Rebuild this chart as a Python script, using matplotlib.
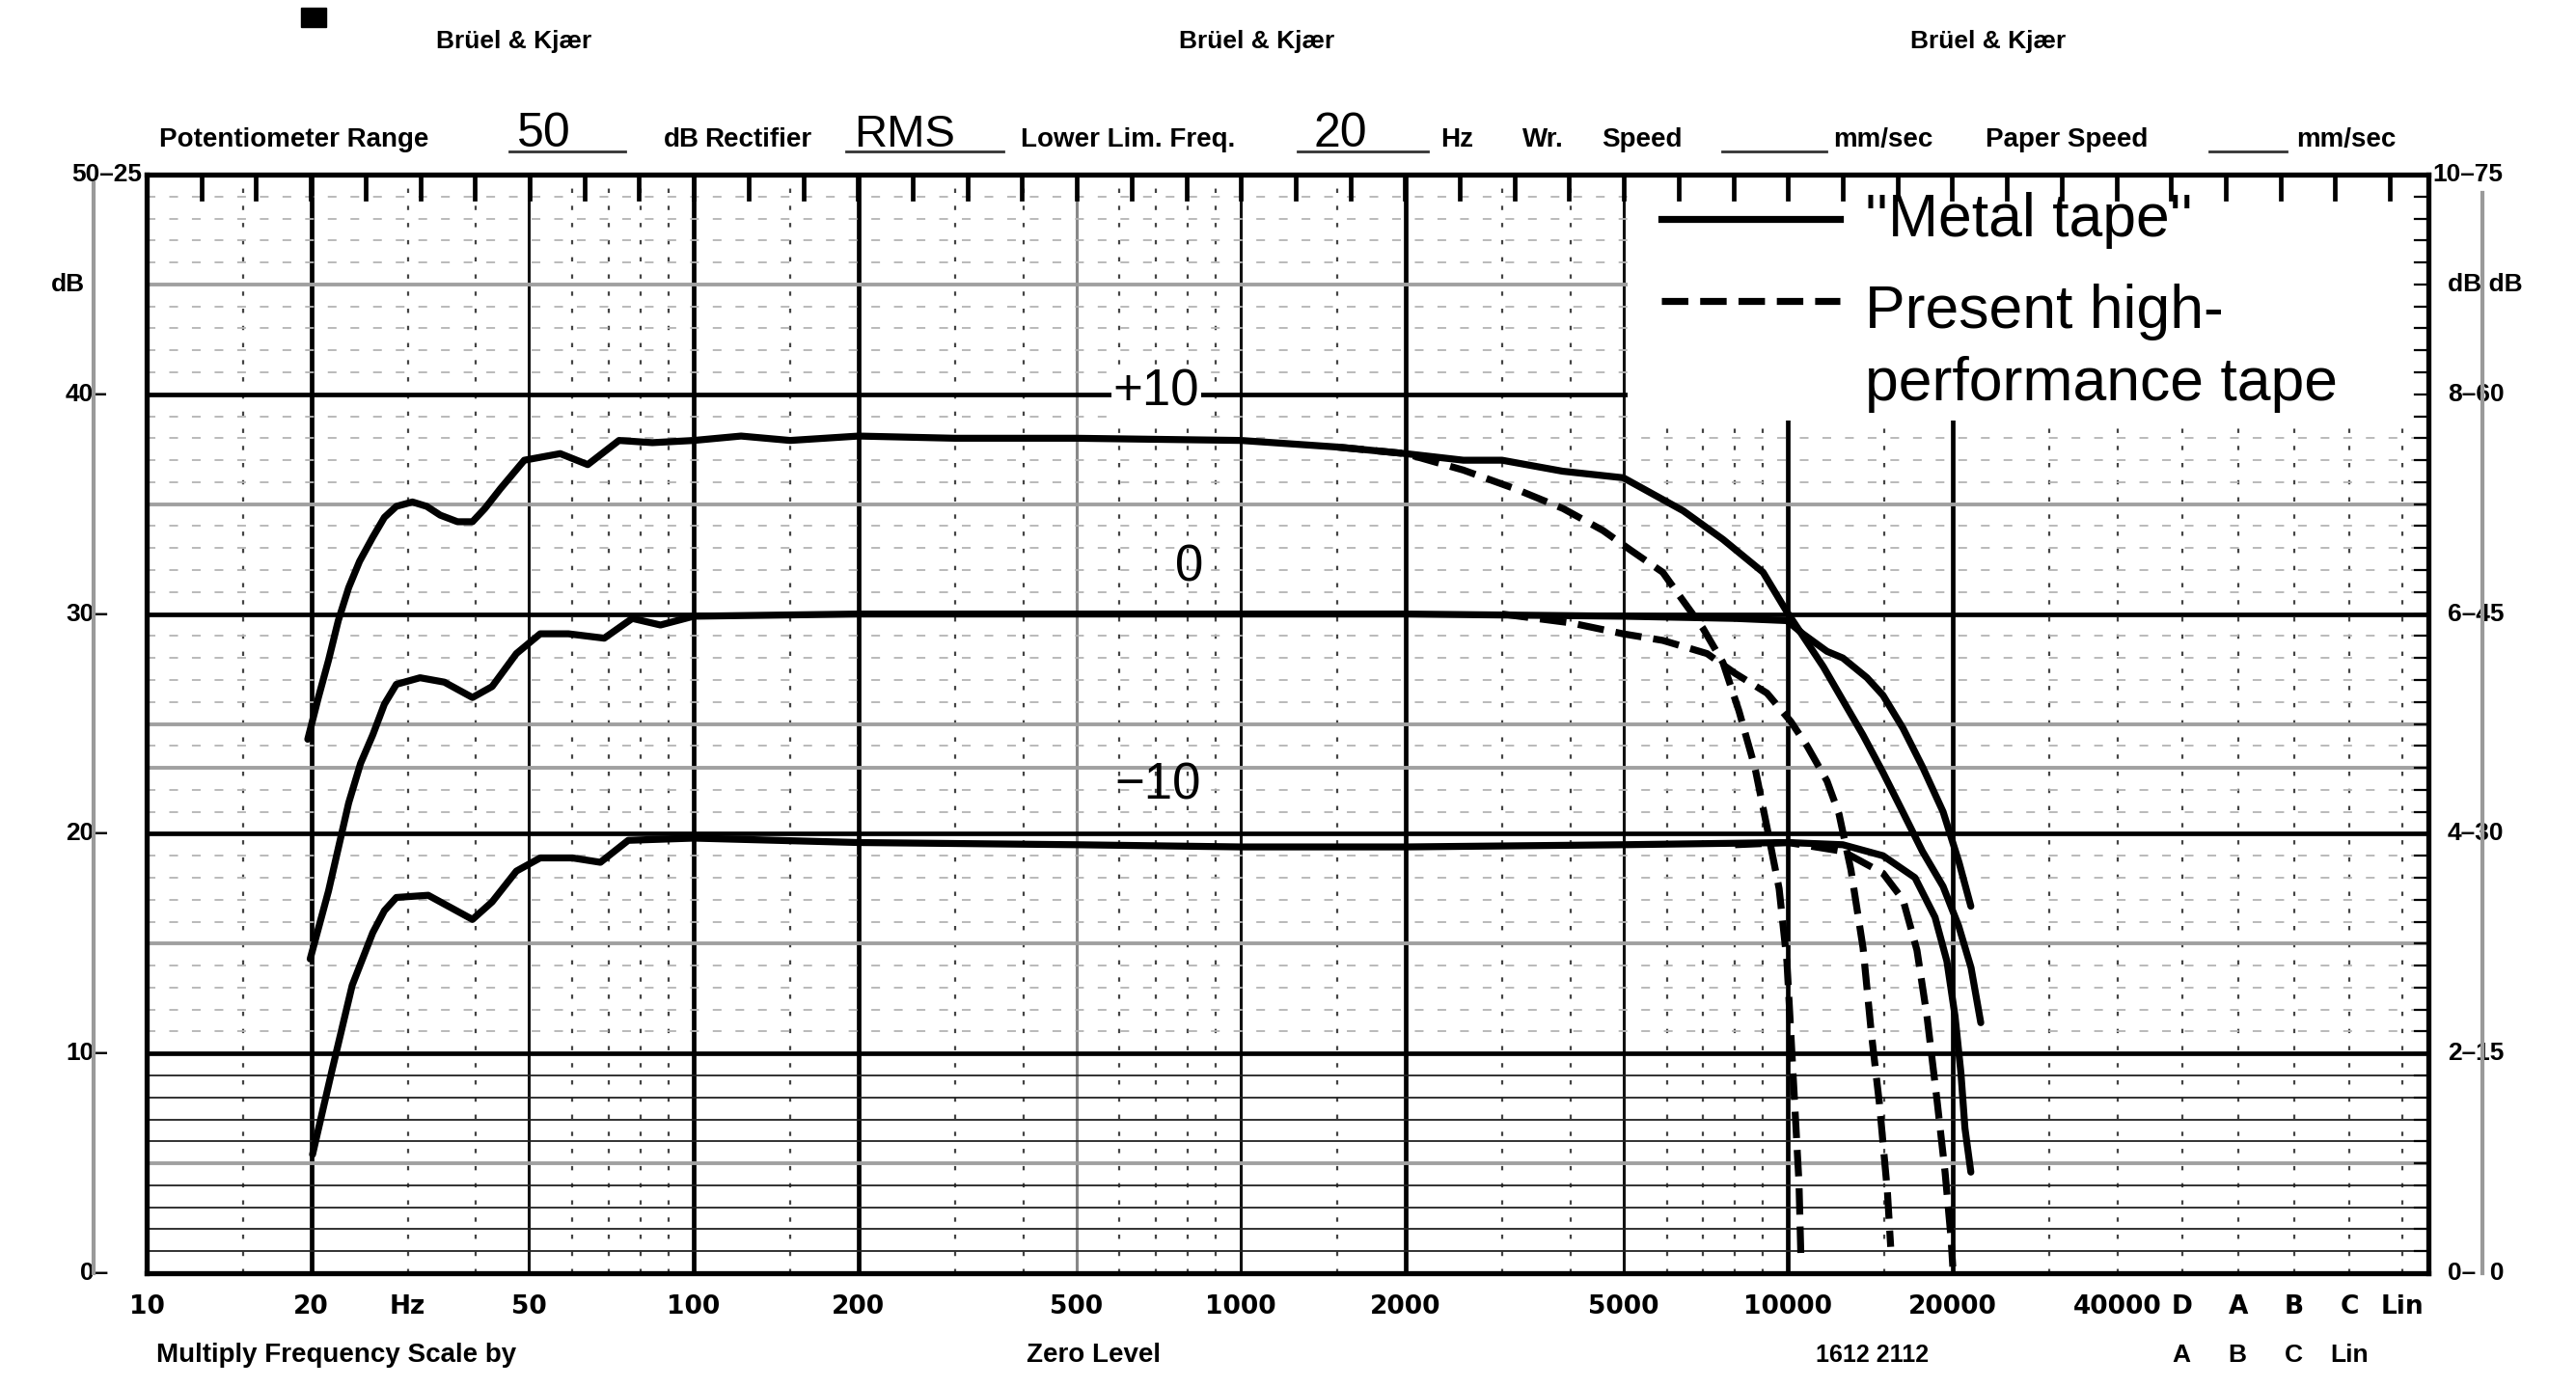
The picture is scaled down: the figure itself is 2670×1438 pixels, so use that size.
import numpy as np
import matplotlib
matplotlib.use("Agg")
import matplotlib.pyplot as plt
import matplotlib.transforms as mtransforms
from matplotlib.patches import Rectangle
from matplotlib.lines import Line2D
from matplotlib.ticker import NullLocator

metal_p10_f = [19.7, 20.6, 21.5, 22.4, 23.4, 24.5, 25.9, 27.2, 28.6, 30.6, 32.5, 34.4, 37, 39.4, 41.5, 44.3, 49,
               57, 64, 73, 84, 100, 122, 150, 200, 300, 500,
               1000, 1500, 2000, 2550, 3000, 3870, 5000, 6430, 7600, 9000,
               9950, 11600, 13700, 14900, 16200, 17600, 19200, 20500, 21600, 22500]
metal_p10_db = [24.3, 26.2, 27.9, 29.7, 31.2, 32.4, 33.5, 34.4, 34.9, 35.1, 34.9, 34.5, 34.2, 34.2, 34.8, 35.7, 37.0,
                37.3, 36.8, 37.9, 37.8, 37.9, 38.1, 37.9, 38.1, 38.0, 38.0,
                37.9, 37.6, 37.3, 37.0, 37.0, 36.5, 36.2, 34.7, 33.4, 31.9,
                30.1, 27.6, 24.5, 22.8, 21.0, 19.2, 17.6, 15.8, 13.9, 11.4]

metal_0_f = [19.9, 21.5, 23.4, 24.6, 25.9, 27.2, 28.6, 31.6, 35, 39.4, 42.8, 47.4,
             52.4, 59, 68.6, 77.2, 86.9, 100, 200, 500, 1000, 2000,
             5000, 8000, 9950, 10640, 11780, 12590, 13940, 14910, 16220, 17640,
             19200, 20530, 21580]
metal_0_db = [14.3, 17.4, 21.4, 23.2, 24.5, 25.9, 26.8, 27.1, 26.9, 26.2, 26.7, 28.2,
              29.1, 29.1, 28.9, 29.8, 29.5, 29.9, 30.0, 30.0, 30.0, 30.0,
              29.9, 29.8, 29.7, 29.1, 28.3, 28.0, 27.1, 26.3, 24.8, 23.0,
              21.0, 18.7, 16.7]

metal_m10_f = [20.1, 21.8, 23.75, 25.9, 27.2, 28.6, 32.7, 36.2, 39.4, 42.8, 47.4,
               52.4, 60, 67.5, 75.9, 100, 200, 500, 1000, 2000, 5000,
               10000, 12590, 14910, 17060, 18560, 19510, 20190, 20700, 21050, 21580]
metal_m10_db = [5.4, 9.2, 13.1, 15.5, 16.5, 17.1, 17.2, 16.6, 16.1, 16.9, 18.3,
                18.9, 18.9, 18.7, 19.7, 19.8, 19.6, 19.5, 19.4, 19.4, 19.5,
                19.6, 19.5, 19.0, 18.0, 16.2, 14.2, 11.7, 9.1, 6.6, 4.6]

present_p10_f = [1500, 2000, 2550, 3170, 3880, 4590, 5160, 5900, 6430, 6990,
                 7600, 8130, 8700, 9150, 9630, 9950, 10210, 10470, 10560]
present_p10_db = [37.6, 37.3, 36.55, 35.7, 34.8, 33.8, 32.9, 31.9, 30.6, 29.35,
                  27.8, 25.6, 23.0, 20.3, 17.5, 14.2, 9.1, 4.1, 0.5]

present_0_f = [3000, 4000, 4990, 5900, 7110, 8000, 9150, 10120, 10830, 11780,
               12390, 13030, 13710, 14200, 14690, 15190, 15400]
present_0_db = [30.0, 29.6, 29.1, 28.8, 28.2, 27.3, 26.4, 25.1, 24.0, 22.4,
                20.9, 18.35, 14.8, 10.9, 7.7, 3.7, 1.2]

present_m10_f = [8000, 10000, 12590, 14910, 16220, 17200, 17940, 18710, 19360, 19850, 20000]
present_m10_db = [19.5, 19.6, 19.2, 18.2, 17.0, 14.7, 11.7, 7.9, 4.6, 1.6, 0.3]

# papel
linhas_v_fortes = [20, 100, 200, 2000, 10000, 20000]
linhas_v_medias = [50, 1000, 5000]
linhas_v_cinza = [500]
linhas_v_pontos = [15, 30, 40, 60, 70, 80, 90, 150, 300, 400, 600, 700, 800, 900,
                   1500, 3000, 4000, 6000, 7000, 8000, 9000, 15000, 30000, 40000,
                   52500, 66400, 84000, 106300, 132700]
linhas_h_fortes = [10, 20, 30, 40]
linhas_h_cinza = [5, 15, 23, 25, 35, 45]
linhas_h_finas = [1, 2, 3, 4, 6, 7, 8, 9]
linhas_h_pontos = [d for d in range(11, 50) if d not in linhas_h_fortes + linhas_h_cinza]

xtick_freqs = [10, 20, 30, 50, 100, 200, 500, 1000, 2000, 5000, 10000, 20000, 40000,
               52500, 66400, 84000, 106300, 132700]
xtick_labels = ['10', '20', 'Hz', '50', '100', '200', '500', '1000', '2000', '5000',
                '10000', '20000', '40000', 'D', 'A', 'B', 'C', 'Lin']

esq_niveis = [50, 45, 40, 30, 20, 10, 0]
esq_labels = ['50–25', 'dB', '40–', '30–', '20–', '10–', '0–']
dir_labels = ['10–75', 'dB dB', '8–60', '6–45', '4–30', '2–15', '0–  0']

W, H = 2670, 1438
fig = plt.figure(figsize=(W / 100, H / 100), dpi=100)
L, R, B, T = 152, 2517, 1320, 181
ax = fig.add_axes([L / W, 1 - B / H, (R - L) / W, (B - T) / H])
ax.set_xscale('log')
ax.set_xlim(10, 148000)
ax.set_ylim(0, 50)

plt.rcParams['font.family'] = ['Liberation Sans', 'DejaVu Sans']

# grade
for f in linhas_v_fortes:
    ax.axvline(f, color='black', lw=3.4, zorder=1)
for f in linhas_v_medias:
    ax.axvline(f, color='#111111', lw=2.2, zorder=1)
for f in linhas_v_cinza:
    ax.axvline(f, color='#888888', lw=2.2, zorder=1)
for f in linhas_v_pontos:
    ax.axvline(f, color='#444444', lw=1.6, ls=(0, (2, 6)), zorder=1)
for d in linhas_h_fortes:
    ax.axhline(d, color='black', lw=3.4, zorder=1)
for d in linhas_h_cinza:
    ax.axhline(d, color='#a0a0a0', lw=2.8, zorder=1)
for d in linhas_h_finas:
    ax.axhline(d, color='#222222', lw=1.3, zorder=1)
for d in linhas_h_pontos:
    ax.axhline(d, color='#b4b4b4', lw=1.3, ls=(0, (5, 8)), zorder=1)

# area em branco da legenda
ax.add_patch(Rectangle((5100, 38.8), 148000 - 5100, 11.2, facecolor='white',
                       edgecolor='none', zorder=2.5))

# marcas do papel no topo e na direita
tr_top = mtransforms.blended_transform_factory(ax.transData, ax.transAxes)
for k in range(1, 42):
    f = 10 * 10 ** (k / 10)
    ax.plot([f, f], [1, 0.978], transform=tr_top, color='black', lw=3.4,
            clip_on=False, zorder=6)
tr_dir = mtransforms.blended_transform_factory(ax.transAxes, ax.transData)
for d in range(1, 50):
    ax.plot([1, 0.994], [d, d], transform=tr_dir, color='black', lw=1.6,
            clip_on=False, zorder=6)

# curvas
tracejado = (0, (3.8, 1.7))
for f, db in [(metal_p10_f, metal_p10_db), (metal_0_f, metal_0_db), (metal_m10_f, metal_m10_db)]:
    ax.plot(f, db, color='black', lw=5.2, solid_capstyle='round', solid_joinstyle='round', zorder=4)
for f, db in [(present_p10_f, present_p10_db), (present_0_f, present_0_db),
              (present_m10_f, present_m10_db)]:
    ax.plot(f, db, color='black', lw=5.2, ls=tracejado, zorder=4)

ax.text(700, 40.1, '+10', fontsize=38, ha='center', va='center', zorder=5,
        bbox=dict(facecolor='white', edgecolor='none', pad=1))
ax.text(806, 32.1, '0', fontsize=38, ha='center', va='center', zorder=5)
ax.text(705, 22.2, '−10', fontsize=38, ha='center', va='center', zorder=5)

# legenda desenhada a mao
ax.plot([0.664, 0.742], [0.960, 0.960], transform=ax.transAxes, color='black', lw=5.2, zorder=6)
ax.plot([0.664, 0.742], [0.885, 0.885], transform=ax.transAxes, color='black', lw=5.2,
        ls=tracejado, zorder=6)
ax.text(0.753, 0.958, "''Metal tape''", transform=ax.transAxes, fontsize=45,
        va='center', zorder=6)
ax.text(0.753, 0.875, 'Present high-', transform=ax.transAxes, fontsize=45,
        va='center', zorder=6)
ax.text(0.753, 0.809, 'performance tape', transform=ax.transAxes, fontsize=45,
        va='center', zorder=6)

# eixos
for s in ax.spines.values():
    s.set_linewidth(3.8)
    s.set_zorder(7)
ax.set_yticks([])
ax.xaxis.set_minor_locator(NullLocator())
ax.set_xticks(xtick_freqs, xtick_labels)
ax.tick_params(axis='x', length=0, pad=16, labelsize=19)
for t in ax.get_xticklabels():
    t.set_fontweight('bold')

for d, s in zip(esq_niveis, esq_labels):
    x = -0.002 if s == '50–25' else (-0.027 if s == 'dB' else -0.017)
    ax.text(x, d, s, transform=tr_dir, ha='right', va='center', fontsize=19,
            fontweight='bold', clip_on=False)
for d, s in zip(esq_niveis, dir_labels):
    x = 1.002 if s == '10–75' else 1.0085
    ax.text(x, d, s, transform=tr_dir, ha='left', va='center', fontsize=19,
            fontweight='bold', clip_on=False)

# reguas cinzas laterais
fig.add_artist(Line2D([97 / W, 97 / W], [1 - 190 / H, 1 - 1320 / H], color='#9a9a9a', lw=3))
fig.add_artist(Line2D([2573 / W, 2573 / W], [1 - 200 / H, 1 - 1320 / H], color='#9a9a9a', lw=3))

# cabecalho
for xc in [533, 1303, 2061]:
    fig.text(xc / W, 1 - 43 / H, 'Brüel & Kjær', ha='center', va='center', fontsize=19,
             fontweight='bold')
fig.add_artist(Rectangle((312 / W, 1 - 28 / H), 26 / W, 20 / H, color='black'))

yb = 1 - 152 / H
cab = [(165, 'Potentiometer Range', 20), (536, '50', 36), (688, 'dB', 20),
       (730, 'Rectifier', 20), (885, 'RMS', 34), (1058, 'Lower Lim. Freq.', 20),
       (1362, '20', 36), (1493, 'Hz', 20), (1578, 'Wr.', 20), (1660, 'Speed', 20),
       (1900, 'mm/sec', 20), (2058, 'Paper Speed', 20), (2380, 'mm/sec', 20)]
for x, s, fs in cab:
    fig.text(x / W, yb, s, ha='left', va='baseline', fontsize=fs,
             fontweight='normal' if fs > 30 else 'bold')
for x0, x1 in [(528, 648), (877, 1040), (1345, 1480), (1785, 1893), (2290, 2370)]:
    fig.add_artist(Line2D([x0 / W, x1 / W], [1 - 157 / H, 1 - 157 / H], color='#333333', lw=2))

# rodape
yr = 1 - 1405 / H
fig.text(162 / W, yr, 'Multiply Frequency Scale by', ha='left', va='center', fontsize=20,
         fontweight='bold')
fig.text(1064 / W, yr, 'Zero Level', ha='left', va='center', fontsize=20, fontweight='bold')
fig.text(1882 / W, yr, '1612 2112', ha='left', va='center', fontsize=18, fontweight='bold')
for x, s in zip([2261, 2319, 2377, 2435], ['A', 'B', 'C', 'Lin']):
    fig.text(x / W, yr, s, ha='center', va='center', fontsize=19, fontweight='bold')

fig.savefig('out.png', dpi=100, facecolor='white')
